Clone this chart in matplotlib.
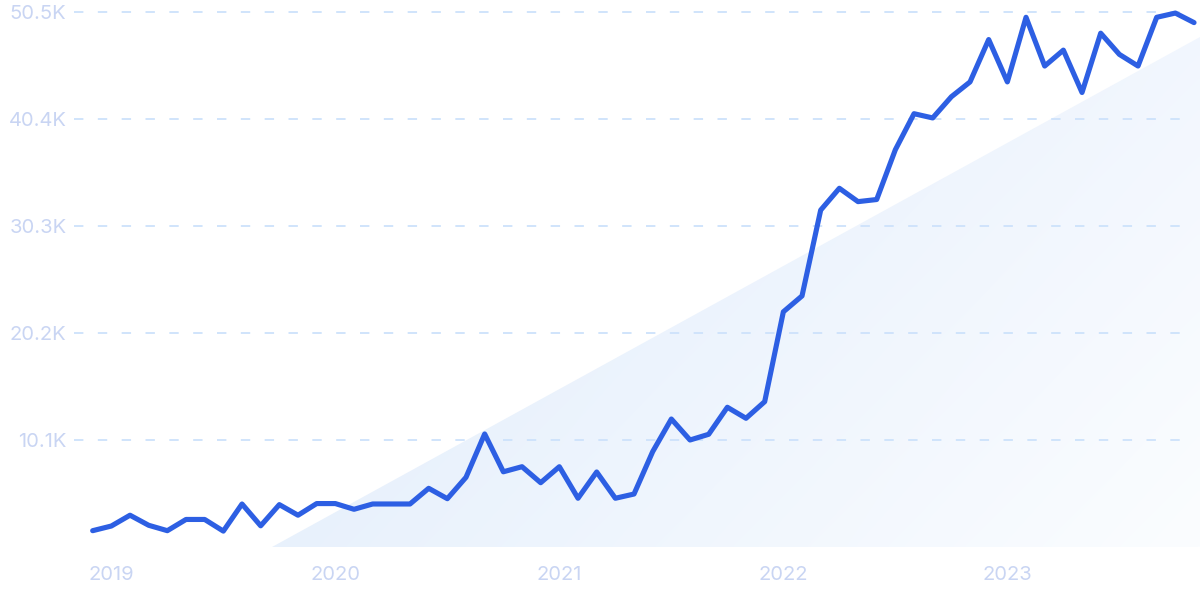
import matplotlib
matplotlib.use("Agg")
import matplotlib.pyplot as plt
import numpy as np
import pandas as pd
from matplotlib.patches import Polygon

plt.rcParams['font.family'] = ['Inter', 'DejaVu Sans']

# Monthly data, Dec 2018 .. Nov 2023 (values in thousands)
months = pd.date_range("2018-12-01", periods=60, freq="MS")
values_k = [
    1.54, 1.98, 3.00, 2.05, 1.54, 2.60, 2.60, 1.50, 4.06, 2.00, 4.00, 3.00,   # Dec18-Nov19
    4.10, 4.10, 3.56, 4.06, 4.06, 4.06, 5.54, 4.56, 6.58, 10.67, 7.10, 7.58,  # Dec19-Nov20
    6.07, 7.58, 4.60, 7.08, 4.60, 5.00, 9.00, 12.08, 10.10, 10.64, 13.19, 12.15,  # Dec20-Nov21
    13.72, 22.20, 23.70, 31.80, 33.86, 32.60, 32.80, 37.50, 40.90, 40.50, 42.50, 43.90,  # Dec21-Nov22
    47.90, 43.90, 50.00, 45.40, 46.90, 42.90, 48.50, 46.50, 45.40, 50.00, 50.40, 49.50,  # Dec22-Nov23
]
values = np.array(values_k) * 1000

y_ticks = [10100, 20200, 30300, 40400, 50500]
y_tick_labels = ["10.1K", "20.2K", "30.3K", "40.4K", "50.5K"]
x_tick_years = ["2019", "2020", "2021", "2022", "2023"]

line_color = "#2d5fe3"
grid_color = "#cde2fb"
label_color = "#c9d5f3"

fig = plt.figure(figsize=(12, 6), dpi=100)
ax = fig.add_axes([74/1200, 53/600, 1126/1200, 547/600])

x = np.arange(len(months))
ax.set_xlim(-1.0, 59.32)
ax.set_ylim(0, 51633)

# decorative gradient triangle
tri = Polygon([(0.1758, 0.0), (1.0, 0.0), (1.0, 0.932)], closed=True,
              transform=ax.transAxes, facecolor='none', edgecolor='none')
ax.add_patch(tri)
nx, ny = 300, 200
gx, gy = np.meshgrid(np.linspace(0, 1, nx), np.linspace(0, 1, ny))
R = 228.0 + 23.0 * gx - 10.0 * gy
G = 238.5 + 14.5 * gx - 7.0 * gy
B = 251.8 + 3.2 * gx - 1.0 * gy
img = np.clip(np.dstack([R, G, B]) / 255.0, 0, 1)
im = ax.imshow(img, extent=(0, 1, 0, 1), transform=ax.transAxes, origin='lower',
               aspect='auto', zorder=0, interpolation='bilinear')
im.set_clip_path(tri)

for yt in y_ticks:
    ax.axhline(yt, xmin=0, xmax=0.988, color=grid_color, lw=1.3,
               dashes=(5.2, 8.0), zorder=1)

ax.plot(x, values, color=line_color, lw=3.7, solid_joinstyle='round',
        solid_capstyle='round', zorder=3, clip_on=False)

jan_pos = [i for i, m in enumerate(months) if m.month == 1]
ax.set_xticks(jan_pos)
ax.set_xticklabels(x_tick_years)
ax.set_yticks(y_ticks)
ax.set_yticklabels(y_tick_labels)
ax.tick_params(axis='both', length=0, labelsize=14.5, labelcolor=label_color)
ax.tick_params(axis='y', pad=5.5)
ax.tick_params(axis='x', pad=14)
for s in ax.spines.values():
    s.set_visible(False)

fig.savefig("out.png", dpi=100)
